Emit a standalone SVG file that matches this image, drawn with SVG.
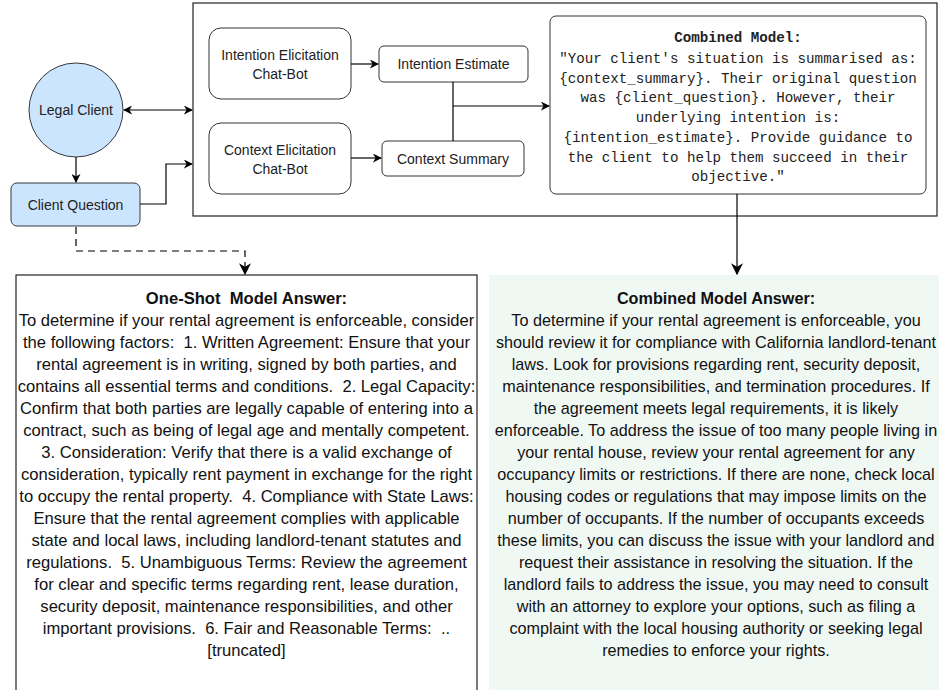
<svg xmlns="http://www.w3.org/2000/svg" width="939" height="690" viewBox="0 0 939 690">
<defs>
<marker id="ah" viewBox="0 0 10 10" refX="9" refY="5" markerWidth="9" markerHeight="9" markerUnits="userSpaceOnUse" orient="auto-start-reverse">
<path d="M0,0 L10,5 L0,10 L3,5 Z" fill="#000"/>
</marker>
<marker id="ahb" viewBox="0 0 10 10" refX="9" refY="5" markerWidth="12" markerHeight="12" markerUnits="userSpaceOnUse" orient="auto">
<path d="M0,0 L10,5 L0,10 L3,5 Z" fill="#000"/>
</marker>
</defs>
<style>
.lbl{font-family:"Liberation Sans",Arial,sans-serif;font-size:14px;fill:#222;text-anchor:middle}
.node{fill:#fff;stroke:#333;stroke-width:1}
.blue{fill:#cce5ff;stroke:#36393d;stroke-width:1}
.mono{font-family:"Liberation Mono","Courier New",monospace;font-size:14.2px;fill:#222;text-anchor:middle;white-space:pre}
.ans{font-family:"Liberation Sans",Arial,sans-serif;font-size:16.6px;fill:#111;text-anchor:middle;white-space:pre}
.ans2{font-size:16.2px}
.b{font-weight:bold}
.conn{fill:none;stroke:#000;stroke-width:1.2}
</style>
<rect x="0" y="0" width="939" height="690" fill="#fff"/>
<g id="container"><rect x="193" y="3" width="744" height="213" fill="#fff" stroke="#222" stroke-width="1.2"/></g>
<g id="legal-client"><circle cx="76" cy="110" r="47" class="blue"/><text x="76" y="115" class="lbl">Legal Client</text></g>
<g id="client-question"><rect x="11" y="183" width="129" height="43" rx="6" class="blue"/><text x="75.5" y="210" class="lbl">Client Question</text></g>
<g id="intention-bot"><rect x="209" y="28" width="142" height="71" rx="12" class="node"/><text x="280" y="60" class="lbl">Intention Elicitation</text><text x="280" y="79" class="lbl">Chat-Bot</text></g>
<g id="context-bot"><rect x="209" y="123" width="142" height="71" rx="12" class="node"/><text x="280" y="155" class="lbl">Context Elicitation</text><text x="280" y="174" class="lbl">Chat-Bot</text></g>
<g id="intention-estimate"><rect x="379" y="46" width="149" height="36" rx="5" class="node"/><text x="453.5" y="69" class="lbl">Intention Estimate</text></g>
<g id="context-summary"><rect x="382" y="141" width="142" height="35" rx="5" class="node"/><text x="453" y="164" class="lbl">Context Summary</text></g>
<g id="combined-model"><rect x="550" y="16" width="376" height="178" rx="6" class="node"/>
<text class="mono"><tspan x="738" y="42" class="b">Combined Model:</tspan><tspan x="738" y="63">"Your client's situation is summarised as:</tspan><tspan x="738" y="83">{context_summary}. Their original question</tspan><tspan x="738" y="102">was {client_question}. However, their</tspan><tspan x="738" y="122">underlying intention is:</tspan><tspan x="738" y="142">{intention_estimate}. Provide guidance to</tspan><tspan x="738" y="162">the client to help them succeed in their</tspan><tspan x="738" y="181">objective."</tspan></text></g>
<g id="one-shot-answer"><rect x="16" y="275" width="461" height="430" fill="#fff" stroke="#222" stroke-width="1.2"/>
<text class="ans"><tspan x="246.5" y="304" class="b">One-Shot  Model Answer:</tspan><tspan x="246.5" y="326">To determine if your rental agreement is enforceable, consider</tspan><tspan x="246.5" y="348">the following factors:  1. Written Agreement: Ensure that your</tspan><tspan x="246.5" y="370">rental agreement is in writing, signed by both parties, and</tspan><tspan x="246.5" y="392">contains all essential terms and conditions.  2. Legal Capacity:</tspan><tspan x="246.5" y="414">Confirm that both parties are legally capable of entering into a</tspan><tspan x="246.5" y="436">contract, such as being of legal age and mentally competent.</tspan><tspan x="246.5" y="458">3. Consideration: Verify that there is a valid exchange of</tspan><tspan x="246.5" y="480">consideration, typically rent payment in exchange for the right</tspan><tspan x="246.5" y="502">to occupy the rental property.  4. Compliance with State Laws:</tspan><tspan x="246.5" y="524">Ensure that the rental agreement complies with applicable</tspan><tspan x="246.5" y="546">state and local laws, including landlord-tenant statutes and</tspan><tspan x="246.5" y="568">regulations.  5. Unambiguous Terms: Review the agreement</tspan><tspan x="246.5" y="590">for clear and specific terms regarding rent, lease duration,</tspan><tspan x="246.5" y="612">security deposit, maintenance responsibilities, and other</tspan><tspan x="246.5" y="634">important provisions.  6. Fair and Reasonable Terms:  ..</tspan><tspan x="246.5" y="656">[truncated]</tspan></text></g>
<g id="combined-answer"><rect x="489" y="275" width="460" height="430" fill="#f0f8f4"/>
<text class="ans ans2"><tspan x="716" y="304" class="b">Combined Model Answer:</tspan><tspan x="716" y="326">To determine if your rental agreement is enforceable, you</tspan><tspan x="716" y="348">should review it for compliance with California landlord-tenant</tspan><tspan x="716" y="370">laws. Look for provisions regarding rent, security deposit,</tspan><tspan x="716" y="392">maintenance responsibilities, and termination procedures. If</tspan><tspan x="716" y="414">the agreement meets legal requirements, it is likely</tspan><tspan x="716" y="436">enforceable. To address the issue of too many people living in</tspan><tspan x="716" y="458">your rental house, review your rental agreement for any</tspan><tspan x="716" y="480">occupancy limits or restrictions. If there are none, check local</tspan><tspan x="716" y="502">housing codes or regulations that may impose limits on the</tspan><tspan x="716" y="524">number of occupants. If the number of occupants exceeds</tspan><tspan x="716" y="546">these limits, you can discuss the issue with your landlord and</tspan><tspan x="716" y="568">request their assistance in resolving the situation. If the</tspan><tspan x="716" y="590">landlord fails to address the issue, you may need to consult</tspan><tspan x="716" y="612">with an attorney to explore your options, such as filing a</tspan><tspan x="716" y="634">complaint with the local housing authority or seeking legal</tspan><tspan x="716" y="656">remedies to enforce your rights.</tspan></text></g>
<g id="connectors">
<path class="conn" d="M124,110 L192,110" marker-start="url(#ah)" marker-end="url(#ah)"/>
<path class="conn" d="M76,157 L76,182" marker-end="url(#ah)"/>
<path class="conn" d="M140,204 L166,204 L166,164 L192,164" marker-end="url(#ah)"/>
<path class="conn" d="M76,227 L76,251 L245,251 L245,274" stroke-dasharray="7,5" stroke-width="2" marker-end="url(#ahb)"/>
<path class="conn" d="M351,64 L378,64" marker-end="url(#ah)"/>
<path class="conn" d="M351,158 L381,158" marker-end="url(#ah)"/>
<path class="conn" d="M453,82 L453,141"/>
<path class="conn" d="M453,106 L549,106" marker-end="url(#ah)"/>
<path class="conn" d="M737,194 L737,274" stroke-width="2" marker-end="url(#ahb)"/>
</g>
</svg>
